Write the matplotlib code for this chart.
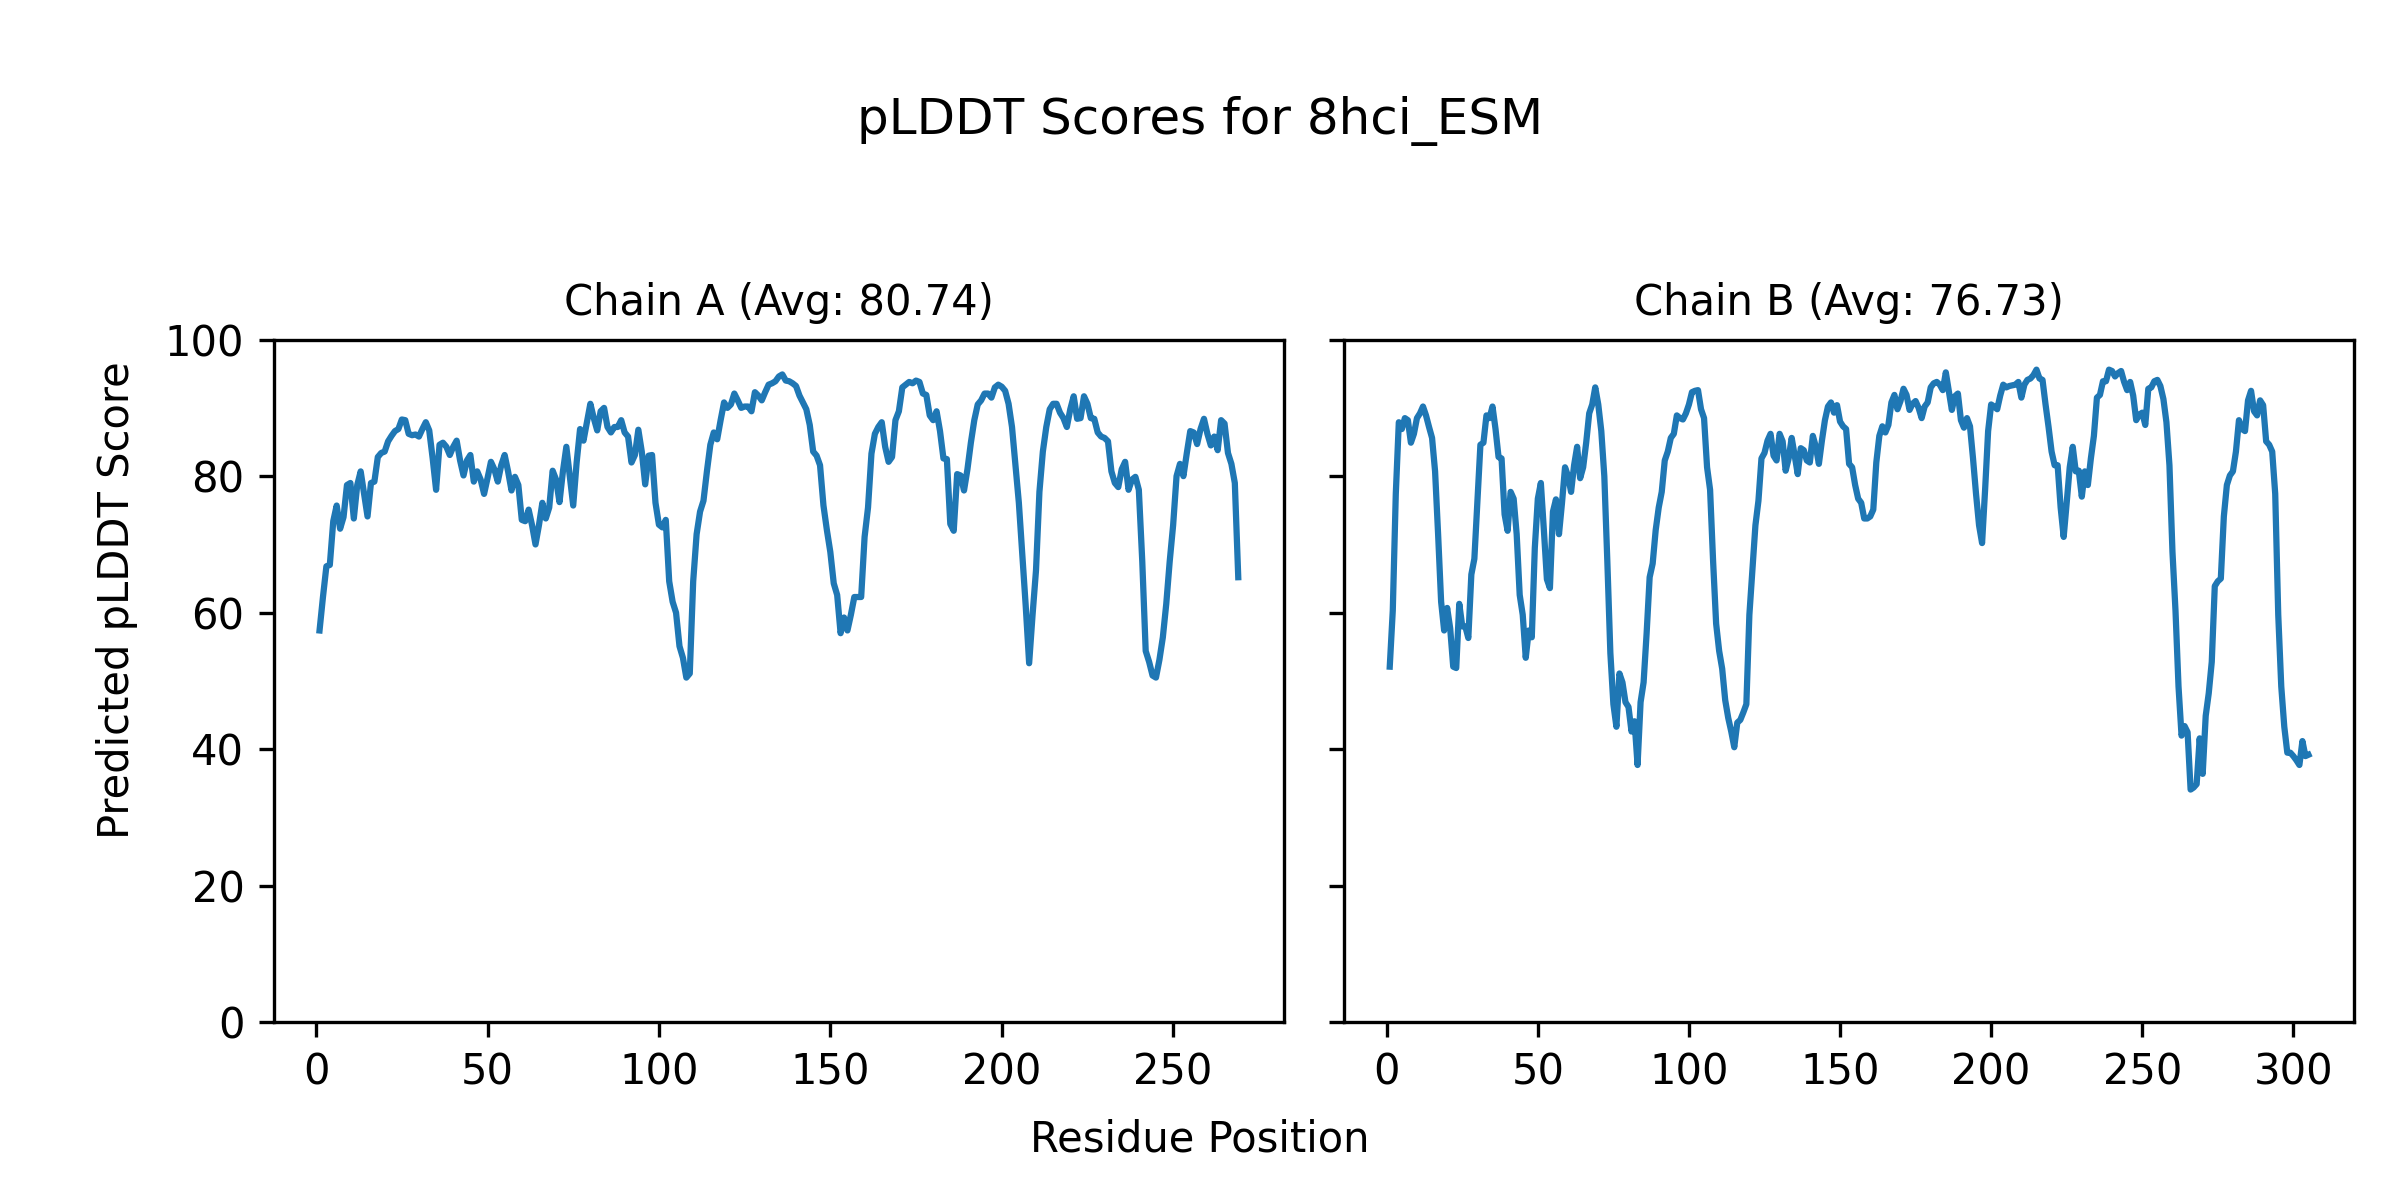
import matplotlib
matplotlib.use("Agg")
import matplotlib.pyplot as plt
import numpy as np

protein = "8hci_ESM"
chains = ["A", "B"]
avg_labels = ["80.74", "76.73"]

# per-residue pLDDT, chain A (residues 1..269)
plddt_a = [
    57.4, 62.3, 66.8, 67.0, 73.4, 75.7, 72.3, 74.0, 78.7, 79.0,
    73.8, 78.7, 80.7, 77.4, 74.1, 79.0, 79.2, 82.8, 83.4, 83.6,
    85.1, 85.9, 86.6, 86.9, 88.3, 88.2, 86.2, 86.0, 86.1, 85.8,
    86.9, 87.9, 86.7, 82.6, 78.0, 84.6, 84.9, 84.3, 83.1, 84.3,
    85.2, 82.3, 80.1, 82.3, 83.1, 79.2, 80.7, 79.5, 77.4, 79.7,
    82.1, 81.0, 79.2, 81.6, 83.1, 80.7, 77.9, 79.9, 78.7, 73.6,
    73.4, 75.1, 72.8, 70.0, 72.8, 76.1, 73.8, 75.4, 80.8, 79.5,
    76.2, 80.7, 84.3, 80.0, 75.7, 82.0, 86.9, 85.2, 87.9, 90.6,
    88.5, 86.7, 89.5, 90.0, 87.2, 86.4, 87.2, 87.2, 88.2, 86.4,
    85.8, 82.0, 83.1, 86.8, 83.6, 78.8, 83.0, 83.1, 76.1, 72.9,
    72.5, 73.6, 64.6, 61.6, 60.0, 55.1, 53.4, 50.5, 51.1, 64.6,
    71.5, 74.8, 76.4, 80.7, 84.6, 86.4, 85.4, 88.2, 90.8, 90.0,
    90.5, 92.1, 91.1, 90.0, 90.2, 90.2, 89.5, 92.3, 91.8, 91.1,
    92.3, 93.4, 93.6, 93.9, 94.6, 94.9, 94.0, 93.9, 93.6, 93.2,
    91.8, 90.8, 89.8, 87.5, 83.6, 83.0, 81.6, 75.7, 72.1, 68.9,
    64.3, 62.6, 57.0, 59.3, 57.4, 59.7, 62.3, 62.3, 62.3, 71.1,
    75.4, 83.3, 86.2, 87.2, 87.9, 84.3, 82.1, 82.8, 88.2, 89.5,
    93.0, 93.4, 93.8, 93.6, 94.0, 93.8, 92.1, 91.9, 88.9, 88.2,
    89.5, 86.6, 82.6, 82.5, 73.0, 72.0, 80.3, 80.1, 77.9, 81.0,
    84.9, 88.2, 90.5, 91.1, 92.1, 92.1, 91.5, 93.0, 93.4, 93.1,
    92.5, 90.6, 87.2, 81.6, 76.1, 68.5, 61.0, 52.6, 59.7, 66.2,
    77.7, 83.6, 87.2, 89.8, 90.6, 90.6, 89.3, 88.5, 87.2, 89.8,
    91.7, 88.4, 88.5, 91.7, 90.6, 88.5, 88.4, 86.4, 85.8, 85.6,
    85.1, 80.7, 79.0, 78.4, 81.0, 82.1, 78.0, 79.5, 79.9, 78.0,
    67.5, 54.4, 52.8, 50.8, 50.5, 53.1, 56.4, 61.3, 67.5, 72.8,
    80.0, 81.8, 80.0, 83.4, 86.6, 86.4, 84.7, 86.9, 88.4, 86.2,
    84.5, 85.8, 83.8, 88.2, 87.7, 83.4, 81.8, 79.0, 65.2,
]

# per-residue pLDDT, chain B (residues 1..305)
plddt_b = [
    52.1, 60.3, 77.4, 87.9, 86.9, 88.5, 88.2, 84.9, 86.2, 88.5,
    89.2, 90.2, 88.9, 87.2, 85.6, 80.7, 71.5, 61.6, 57.4, 60.7,
    57.7, 52.1, 51.9, 61.3, 58.0, 58.0, 56.3, 65.6, 67.9, 76.1,
    84.6, 84.9, 88.9, 88.5, 90.2, 86.9, 82.8, 82.6, 74.4, 72.0,
    77.7, 76.7, 71.5, 62.6, 59.7, 53.4, 57.4, 56.4, 69.5, 76.7,
    79.0, 72.1, 64.9, 63.6, 74.8, 76.6, 71.5, 76.1, 81.3, 80.0,
    77.7, 81.6, 84.3, 79.7, 81.3, 84.9, 89.2, 90.5, 93.0, 90.5,
    86.6, 80.0, 67.5, 54.1, 46.6, 43.3, 51.1, 49.8, 46.9, 46.2,
    42.6, 44.1, 37.7, 46.9, 49.8, 57.0, 65.2, 67.2, 72.1, 75.4,
    77.7, 82.3, 83.6, 85.6, 86.2, 88.9, 88.5, 88.3, 89.2, 90.5,
    92.3, 92.5, 92.6, 89.8, 88.5, 81.3, 78.0, 67.5, 58.4, 54.4,
    51.8, 47.2, 44.6, 42.6, 40.3, 43.9, 44.3, 45.4, 46.6, 59.7,
    66.2, 72.8, 76.4, 82.6, 83.4, 85.2, 86.2, 83.0, 82.3, 86.2,
    85.1, 80.8, 82.6, 85.6, 83.0, 80.3, 84.1, 83.8, 82.3, 82.0,
    85.9, 84.3, 81.8, 85.2, 88.2, 90.2, 90.8, 89.3, 90.4, 88.0,
    87.3, 86.9, 81.8, 81.3, 78.7, 76.7, 76.1, 73.8, 73.8, 74.1,
    75.1, 82.0, 85.9, 87.3, 86.4, 87.5, 90.8, 91.9, 89.8, 91.0,
    92.8, 91.9, 89.7, 90.6, 91.0, 90.0, 88.5, 90.2, 90.8, 93.0,
    93.6, 93.8, 93.4, 92.6, 95.2, 92.5, 89.7, 91.7, 92.1, 88.2,
    87.1, 88.5, 87.3, 82.6, 77.4, 72.8, 70.2, 78.0, 86.6, 90.5,
    90.2, 89.8, 91.8, 93.4, 93.0, 93.2, 93.3, 93.4, 93.8, 91.5,
    93.4, 94.1, 94.3, 94.8, 95.6, 94.3, 94.1, 90.5, 87.2, 83.6,
    81.6, 81.6, 75.4, 71.1, 76.1, 81.3, 84.3, 80.7, 80.8, 77.0,
    80.7, 78.7, 82.6, 85.9, 91.5, 91.9, 93.9, 93.9, 95.6, 95.4,
    94.6, 95.1, 95.4, 93.8, 92.6, 93.8, 91.8, 88.2, 89.0, 89.3,
    87.5, 92.8, 93.0, 93.9, 94.1, 93.2, 91.3, 87.9, 81.6, 68.9,
    60.3, 49.2, 42.0, 43.4, 42.5, 34.1, 34.4, 34.9, 41.6, 36.4,
    44.9, 48.2, 52.8, 63.9, 64.6, 65.0, 74.1, 78.7, 80.1, 80.7,
    83.6, 88.2, 86.9, 86.6, 91.1, 92.5, 89.5, 88.9, 91.1, 90.4,
    85.1, 84.6, 83.6, 77.4, 59.7, 49.2, 43.3, 39.5, 39.5, 39.0,
    38.4, 37.7, 41.2, 39.0, 39.2,
]

scores = [plddt_a, plddt_b]

fig, axes = plt.subplots(1, 2, figsize=(8, 4), sharey=True)

for ax, chain, avg, vals in zip(axes, chains, avg_labels, scores):
    res = np.arange(1, len(vals) + 1)
    ax.plot(res, vals)
    ax.set_title(f"Chain {chain} (Avg: {avg})", fontsize=10)
    ax.set_ylim(0, 100)

# shared labels
fig.text(0.5, 0.04, "Residue Position", ha="center")
fig.text(0.04, 0.5, "Predicted pLDDT Score", va="center", rotation="vertical")
fig.suptitle(f"pLDDT Scores for {protein}", fontsize=12, y=0.92)

plt.subplots_adjust(left=0.114, right=0.981, bottom=0.148, top=0.717, wspace=0.059)
plt.savefig("out.png", dpi=300)
